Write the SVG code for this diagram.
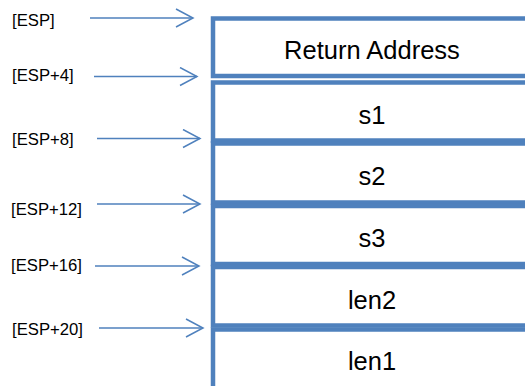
<svg xmlns="http://www.w3.org/2000/svg" width="525" height="386" viewBox="0 0 525 386">
  <style>
    .cell { fill: #ffffff; stroke: #4F81BD; stroke-width: 4.5; }
    .cellText { font-family: "Liberation Sans", Arial, sans-serif; font-size: 25.5px; fill: #000000; text-anchor: middle; }
    .lbl { font-family: "Liberation Sans", Arial, sans-serif; font-size: 16.7px; fill: #000000; }
    .arrow { stroke: #4F81BD; stroke-width: 1.5; fill: none; marker-end: url(#ah); }
  </style>
  <defs>
    <marker id="ah" markerUnits="userSpaceOnUse" markerWidth="20" markerHeight="20" refX="18" refY="10" orient="auto" viewBox="0 0 20 20">
      <path d="M1,1 L18,10 L1,19" fill="none" stroke="#4F81BD" stroke-width="1.5"/>
    </marker>
  </defs>
  <rect width="525" height="386" fill="#ffffff"/>

  <g id="cell-return-address">
    <rect class="cell" x="213" y="18.5" width="340" height="57.5"/>
    <text class="cellText" x="372" y="59">Return Address</text>
  </g>
  <g id="cell-s1">
    <rect class="cell" x="213" y="82.5" width="340" height="58"/>
    <text class="cellText" x="372" y="124">s1</text>
  </g>
  <g id="cell-s2">
    <rect class="cell" x="213" y="143.5" width="340" height="59"/>
    <text class="cellText" x="372" y="185">s2</text>
  </g>
  <g id="cell-s3">
    <rect class="cell" x="213" y="206" width="340" height="58"/>
    <text class="cellText" x="372" y="247">s3</text>
  </g>
  <g id="cell-len2">
    <rect class="cell" x="213" y="267" width="340" height="58.5"/>
    <text class="cellText" x="372" y="309">len2</text>
  </g>
  <g id="cell-len1">
    <rect class="cell" x="213" y="329.5" width="340" height="70"/>
    <text class="cellText" x="372" y="370">len1</text>
  </g>

  <g id="label-esp"><text class="lbl" x="12" y="26">[ESP]</text></g>
  <g id="label-esp4"><text class="lbl" x="12" y="81">[ESP+4]</text></g>
  <g id="label-esp8"><text class="lbl" x="12" y="145">[ESP+8]</text></g>
  <g id="label-esp12"><text class="lbl" x="11" y="215">[ESP+12]</text></g>
  <g id="label-esp16"><text class="lbl" x="11" y="271">[ESP+16]</text></g>
  <g id="label-esp20"><text class="lbl" x="12" y="335">[ESP+20]</text></g>

  <g id="connectors">
    <line class="arrow" x1="90" y1="18" x2="193" y2="18"/>
    <line class="arrow" x1="94" y1="76.5" x2="197" y2="76.5"/>
    <line class="arrow" x1="97" y1="138.5" x2="200" y2="138.5"/>
    <line class="arrow" x1="97" y1="204" x2="200" y2="204"/>
    <line class="arrow" x1="95" y1="266" x2="199" y2="266"/>
    <line class="arrow" x1="99" y1="328" x2="203" y2="328"/>
  </g>
</svg>
